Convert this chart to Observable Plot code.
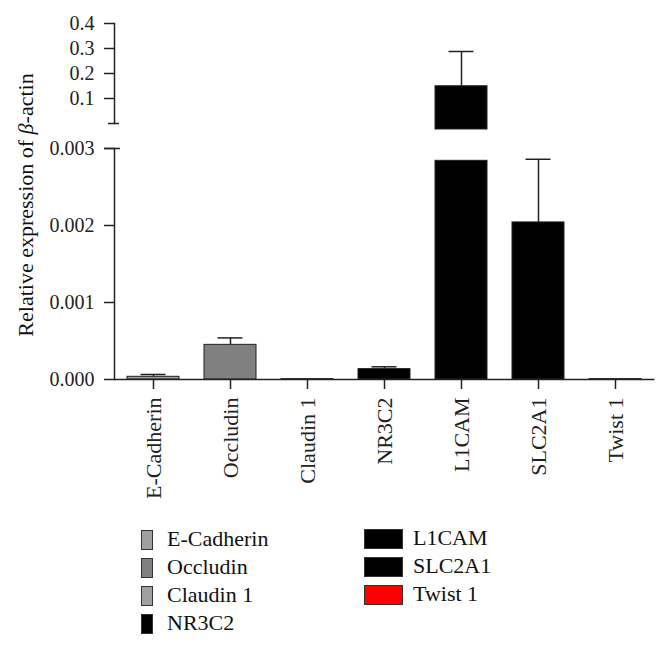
<!DOCTYPE html>
<html><head><meta charset="utf-8">
<script src="https://cdn.jsdelivr.net/npm/d3@7"></script>
<script src="https://cdn.jsdelivr.net/npm/@observablehq/plot@0.6"></script>
<style>
body{margin:0;background:#fff;}
#wrap{position:relative;width:669px;height:647px;overflow:hidden;font-family:"Liberation Serif",serif;color:#111;background:#fff;}
#upper{position:absolute;left:0;top:0;}
#lower{position:absolute;left:0;top:140px;}
#ytitle{position:absolute;left:26px;top:205px;transform:translate(-50%,-50%) rotate(-90deg);white-space:nowrap;font-size:22px;line-height:normal;}
.leg{position:absolute;font-size:22px;line-height:20px;height:20px;white-space:nowrap;}
.sw{position:absolute;height:18px;border:1px solid #333;}
</style></head><body>
<div id="wrap">
  <div id="upper"></div>
  <div id="lower"></div>
  <div id="ytitle">Relative expression of <i>β</i>-actin</div>
  <div id="legend"></div>
</div>
<script>
// ---- data ----
const genes  = ["E-Cadherin", "Occludin", "Claudin 1", "NR3C2", "L1CAM", "SLC2A1", "Twist 1"];
const means  = [0.000035, 0.00045, 0.000005, 0.000135, 0.149, 0.00204, 0.000005];
const errors = [0.00003, 0.00009, 0, 0.00003, 0.139, 0.00082, 0];
const fills  = ["#a0a0a0", "#808080", "#a0a0a0", "#000000", "#000000", "#000000", "#ff0000"];
const upperTicks = [0.1, 0.2, 0.3, 0.4];
const lowerTicks = [0, 0.001, 0.002, 0.003];
const legendLeft  = ["E-Cadherin", "Occludin", "Claudin 1", "NR3C2"];
const legendRight = ["L1CAM", "SLC2A1", "Twist 1"];

// ---- broken axis setup ----
const LOWER_MAX = 0.003;     // top of lower segment
const LOWER_CLIP = 0.00284;  // where a bar that continues above the break is cut
const rows = genes.map((g, i) => ({gene: g, mean: means[i], err: errors[i], fill: fills[i]}));
const lowRows = rows.map(d => ({...d, shown: Math.min(d.mean, LOWER_CLIP)}));
const lowErr = rows.filter(d => d.mean <= LOWER_MAX && d.err > 0);
const upRows = rows.filter(d => d.mean > LOWER_MAX);

const INK = "#222";
const xOpts = {domain: genes, paddingInner: 0.326, paddingOuter: 0.165, label: null};
const common = {
  width: 669, marginLeft: 114, marginRight: 14.6,
  style: {fontFamily: "Liberation Serif", fontSize: "20px", color: INK, background: "transparent", overflow: "visible"}
};

const upper = Plot.plot({
  ...common, height: 140, marginTop: 23, marginBottom: 17,
  x: {...xOpts, axis: null},
  y: {domain: [0, 0.4], label: null},
  marks: [
    Plot.frame({anchor: "left", stroke: INK, strokeWidth: 1.5}),
    Plot.axisY({ticks: upperTicks, tickSize: 10, tickPadding: 10, tickFormat: d3.format(".1f"), strokeWidth: 1.5, label: null}),
    Plot.axisY({ticks: [0], tickSize: 11, dx: 5, tickFormat: () => "", strokeWidth: 1.5, label: null}),
    Plot.barY(upRows, {x: "gene", y: "mean", fill: "fill", stroke: INK, strokeWidth: 1, insetBottom: -6}),
    Plot.ruleX(upRows, {x: "gene", y1: "mean", y2: d => d.mean + d.err, stroke: INK, strokeWidth: 1.5}),
    Plot.tickY(upRows, {x: "gene", y: d => d.mean + d.err, insetLeft: 13.5, insetRight: 13.5, stroke: INK, strokeWidth: 1.5})
  ]
});
document.getElementById("upper").append(upper);

const lower = Plot.plot({
  ...common, height: 380, marginTop: 8, marginBottom: 141,
  x: {...xOpts},
  y: {domain: [0, LOWER_MAX], label: null},
  marks: [
    Plot.frame({anchor: "left", stroke: INK, strokeWidth: 1.5}),
    Plot.axisY({ticks: lowerTicks, tickSize: 10, tickPadding: 10, tickFormat: d3.format(".3f"), strokeWidth: 1.5, label: null}),
    Plot.axisY({ticks: [LOWER_MAX], tickSize: 16, dx: 6, tickFormat: () => "", strokeWidth: 1.5, label: null}),
    Plot.axisX({tickRotate: -90, tickSize: 10, tickPadding: 8, fontSize: 22, strokeWidth: 1.5, label: null}),
    Plot.barY(lowRows, {x: "gene", y: "shown", fill: "fill", stroke: INK, strokeWidth: 1}),
    Plot.ruleX(lowErr, {x: "gene", y1: "mean", y2: d => d.mean + d.err, stroke: INK, strokeWidth: 1.5}),
    Plot.tickY(lowErr, {x: "gene", y: d => d.mean + d.err, insetLeft: 13.5, insetRight: 13.5, stroke: INK, strokeWidth: 1.5}),
    Plot.ruleY([0], {stroke: INK, strokeWidth: 1.5})
  ]
});
document.getElementById("lower").append(lower);

// ---- legend ----
const legend = document.getElementById("legend");
const colorOf = Object.fromEntries(genes.map((g, i) => [g, fills[i]]));
function addItem(name, swLeft, swWidth, textLeft, top) {
  const sw = document.createElement("div");
  sw.className = "sw";
  sw.style.left = swLeft + "px";
  sw.style.top = top + "px";
  sw.style.width = (swWidth - 2) + "px";
  sw.style.background = colorOf[name];
  legend.append(sw);
  const t = document.createElement("div");
  t.className = "leg";
  t.style.left = textLeft + "px";
  t.style.top = (top - 1) + "px";
  t.textContent = name;
  legend.append(t);
}
legendLeft.forEach((n, i) => addItem(n, 141, 12, 167, 530 + i * 28));
legendRight.forEach((n, i) => addItem(n, 364, 39, 413, 529 + i * 28));
</script>
</body></html>
